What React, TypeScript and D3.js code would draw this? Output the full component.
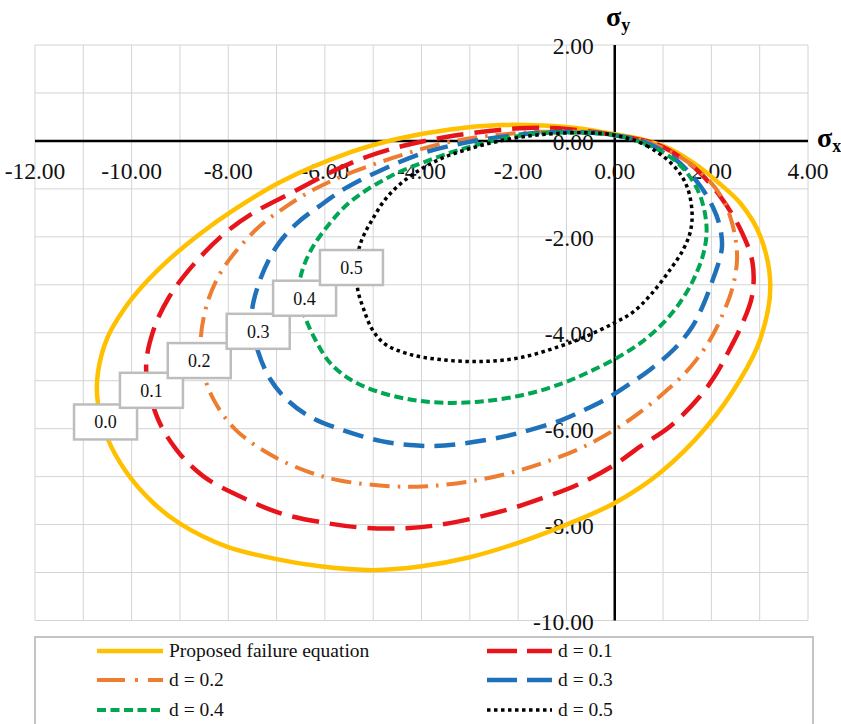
import React from 'react';
import * as d3 from 'd3';

type Pt = [number, number];

// Axis ticks
const xTicks = [-12, -10, -8, -6, -4, -2, 0, 2, 4];
const yTicks = [2, 0, -2, -4, -6, -8, -10];
const xGrid = d3.range(-12, 5, 1);
const yGrid = d3.range(-10, 3, 1);

// Failure envelopes (sigma_x, sigma_y) for each damage level
const env00: Pt[] = [
  [0, 0.14], [0.53, 0.04], [1.15, -0.17], [1.77, -0.56], [2.11, -0.84], [2.6, -1.3], [3.01, -1.98],
  [3.22, -3.03], [3.01, -4.14], [2.6, -4.97], [1.91, -5.95], [0.94, -6.92], [0, -7.55], [-1.0, -8.0],
  [-2.0, -8.38], [-3.0, -8.68], [-4.0, -8.87], [-5.0, -8.95], [-6.1, -8.87], [-7.0, -8.72],
  [-8.03, -8.46], [-9.0, -7.98], [-9.55, -7.55], [-10.1, -6.92], [-10.5, -6.2], [-10.7, -5.45],
  [-10.7, -4.85], [-10.5, -4.1], [-10.15, -3.5], [-9.75, -3.0], [-9.2, -2.45], [-8.6, -1.95],
  [-7.9, -1.45], [-6.93, -0.86], [-5.48, -0.24], [-4.51, 0.04], [-3.41, 0.24], [-2.37, 0.33],
  [-1.5, 0.32], [-0.72, 0.26],
];
const env01: Pt[] = [
  [0, 0.12], [0.87, -0.07], [1.42, -0.38], [1.75, -0.65], [2.18, -1.15], [2.6, -1.84], [2.85, -2.53],
  [2.84, -3.24], [2.6, -3.9], [2.35, -4.4], [2.11, -4.84], [1.77, -5.32], [1.15, -5.95], [0.53, -6.37],
  [0, -6.75], [-0.75, -7.16], [-1.5, -7.45], [-2.23, -7.69], [-3.41, -7.97], [-4.24, -8.07], [-5.13, -8.07],
  [-5.96, -7.97], [-6.93, -7.76], [-7.76, -7.41], [-8.52, -6.99], [-9.07, -6.44], [-9.48, -5.74],
  [-9.7, -4.75], [-9.55, -3.95], [-9.22, -3.25], [-8.72, -2.58], [-8.1, -1.95], [-7.48, -1.5],
  [-6.65, -1.06], [-5.83, -0.63], [-5.13, -0.33], [-4.37, -0.1], [-3.55, 0.07], [-2.65, 0.2],
  [-1.82, 0.27], [-1.0, 0.25],
];
const env02: Pt[] = [
  [0, 0.12], [0.6, 0.0], [1.3, -0.3], [1.85, -0.72], [2.2, -1.15], [2.38, -1.55], [2.5, -2.05],
  [2.53, -2.5], [2.44, -3.05], [2.25, -3.58], [2.0, -4.1], [1.7, -4.55], [1.4, -4.9], [1.1, -5.18],
  [0.8, -5.44], [0.11, -5.95], [-0.65, -6.38], [-1.48, -6.71], [-2.23, -6.94], [-3.06, -7.11],
  [-3.89, -7.2], [-4.65, -7.2], [-5.69, -7.08], [-6.37, -6.89], [-7.13, -6.54], [-7.85, -6.02],
  [-8.3, -5.4], [-8.52, -4.8], [-8.57, -4.14], [-8.44, -3.4], [-8.2, -2.82], [-7.88, -2.35],
  [-7.34, -1.77], [-6.79, -1.36], [-6.24, -1.02], [-5.58, -0.71], [-4.58, -0.35], [-3.55, -0.05],
  [-2.65, 0.1], [-1.54, 0.19], [-0.7, 0.19],
];
const env03: Pt[] = [
  [0, 0.12], [0.6, -0.02], [1.25, -0.38], [1.77, -0.94], [2.04, -1.4], [2.18, -1.8], [2.22, -2.2],
  [2.16, -2.5], [2.02, -2.92], [1.84, -3.4], [1.6, -3.88], [1.22, -4.35], [0.73, -4.77],
  [0.32, -5.06], [-0.16, -5.37], [-0.65, -5.62], [-1.1, -5.82], [-2.1, -6.12], [-3.06, -6.3],
  [-3.75, -6.36], [-4.24, -6.34], [-4.83, -6.26], [-5.6, -6.04], [-6.31, -5.75], [-6.79, -5.39],
  [-7.13, -4.97], [-7.38, -4.4], [-7.52, -3.7], [-7.36, -2.95], [-7.0, -2.2], [-6.58, -1.72],
  [-6.1, -1.35], [-5.58, -0.99], [-4.79, -0.59], [-3.96, -0.25], [-3.06, -0.03], [-2.23, 0.1],
  [-1.54, 0.17], [-0.7, 0.18],
];
const env04: Pt[] = [
  [0, 0.12], [0.6, -0.05], [1.1, -0.3], [1.49, -0.66], [1.77, -1.15], [1.9, -1.8], [1.84, -2.33],
  [1.63, -2.89], [1.35, -3.37], [1.01, -3.79], [0.55, -4.2], [0, -4.55], [-0.58, -4.84], [-1.1, -5.06],
  [-1.82, -5.28], [-2.72, -5.43], [-3.55, -5.46], [-4.24, -5.39], [-4.93, -5.22], [-5.48, -4.97],
  [-5.9, -4.62], [-6.2, -4.14], [-6.43, -3.62], [-6.53, -3.2], [-6.5, -2.82], [-6.3, -2.3],
  [-5.9, -1.72], [-5.45, -1.25], [-4.65, -0.74], [-3.89, -0.42], [-3.06, -0.14], [-2.23, 0.06],
  [-1.54, 0.16], [-0.7, 0.17],
];
const env05: Pt[] = [
  [0, 0.12], [0.66, -0.1], [1.22, -0.52], [1.49, -0.94], [1.6, -1.49], [1.56, -1.91], [1.42, -2.26],
  [1.15, -2.68], [0.75, -3.2], [0.39, -3.56], [0, -3.79], [-0.58, -4.07], [-1.13, -4.28],
  [-1.96, -4.52], [-2.79, -4.6], [-3.61, -4.56], [-4.24, -4.45], [-4.75, -4.24], [-5.02, -3.93],
  [-5.2, -3.5], [-5.32, -3.1], [-5.35, -2.6], [-5.25, -2.1], [-5.04, -1.68], [-4.72, -1.18],
  [-4.24, -0.74], [-3.62, -0.38], [-2.93, -0.14], [-2.23, 0.03], [-1.54, 0.13], [-0.78, 0.17],
];

const seriesNames = ['Proposed failure equation', 'd = 0.1', 'd = 0.2', 'd = 0.3', 'd = 0.4', 'd = 0.5'];
const damageLabels = ['0.0', '0.1', '0.2', '0.3', '0.4', '0.5'];
// Callout anchors (data coordinates) for the damage-level labels
const labelAnchors: Pt[] = [[-10.54, -5.86], [-9.59, -5.2], [-8.6, -4.58], [-7.38, -3.97], [-6.42, -3.28], [-5.45, -2.64]];

const envelopes = [env00, env01, env02, env03, env04, env05];

const styles = [
  { color: '#FFC000', width: 4.5, dash: undefined as string | undefined, legendDash: undefined as string | undefined },
  { color: '#E8141C', width: 4.5, dash: '27 11', legendDash: '30 10' },
  { color: '#ED7D31', width: 4, dash: '20 8 2.5 8', legendDash: '28 10 3 10' },
  { color: '#1F72BA', width: 4.5, dash: '21 10', legendDash: '30 10' },
  { color: '#00A651', width: 4, dash: '9 4.5', legendDash: '9 4.5' },
  { color: '#000000', width: 3.5, dash: '3.5 3.5', legendDash: '3.5 3.5' },
];

const FONT = '"Liberation Serif", "Times New Roman", serif';

export default function App() {
  const W = 841;
  const H = 724;
  const x = d3.scaleLinear().domain([-12, 4]).range([35, 808]);
  const y = d3.scaleLinear().domain([-10, 2]).range([620.5, 45]);

  const line = d3
    .line<Pt>()
    .x((d) => x(d[0]))
    .y((d) => y(d[1]))
    .curve(d3.curveCatmullRomClosed.alpha(0.5));

  const legendRows = [651, 680, 710];
  const legendCols = [
    { x0: 97, x1: 163, tx: 169 },
    { x0: 487, x1: 552, tx: 558 },
  ];

  return (
    <svg
      width={W}
      height={H}
      style={{ position: 'absolute', left: 0, top: 0, background: '#fff' }}
      fontFamily={FONT}
    >
      <rect x={0} y={0} width={W} height={H} fill="#fff" />

      {/* grid */}
      <g stroke="#d4d4d4" strokeWidth={1}>
        {xGrid.map((v) => (
          <line key={'gx' + v} x1={x(v)} x2={x(v)} y1={y(2)} y2={y(-10)} />
        ))}
        {yGrid.map((v) => (
          <line key={'gy' + v} x1={x(-12)} x2={x(4)} y1={y(v)} y2={y(v)} />
        ))}
      </g>

      {/* axes through the origin */}
      <line x1={x(-12)} x2={x(4)} y1={y(0)} y2={y(0)} stroke="#000" strokeWidth={2.5} />
      <line x1={x(0)} x2={x(0)} y1={y(2)} y2={y(-10)} stroke="#000" strokeWidth={2.5} />

      {/* tick labels */}
      <g fontSize={23.5} fill="#111">
        {xTicks.map((v) => (
          <text key={'xt' + v} x={x(v)} y={y(0) + 30} textAnchor="middle" dy="0.35em">
            {v.toFixed(2)}
          </text>
        ))}
        {yTicks.map((v) => (
          <text key={'yt' + v} x={x(0) - 21} y={y(v) + 1} textAnchor="end" dy="0.35em">
            {v.toFixed(2)}
          </text>
        ))}
      </g>

      {/* axis titles */}
      <text x={606} y={26} fontSize={28} fontWeight="bold" fill="#000">
        σ<tspan fontSize={18} dy={5}>y</tspan>
      </text>
      <text x={817} y={147} fontSize={28} fontWeight="bold" fill="#000">
        σ<tspan fontSize={18} dy={5}>x</tspan>
      </text>

      {/* envelopes */}
      {envelopes.map((pts, i) => (
        <path
          key={'env' + i}
          d={line(pts) || ''}
          fill="none"
          stroke={styles[i].color}
          strokeWidth={styles[i].width}
          strokeDasharray={styles[i].dash}
          strokeLinejoin="round"
        />
      ))}

      {/* damage-level callouts */}
      {damageLabels.map((t, i) => {
        const cx = x(labelAnchors[i][0]);
        const cy = y(labelAnchors[i][1]);
        return (
          <g key={'lbl' + i}>
            <rect x={cx - 31.5} y={cy - 17.5} width={63} height={35} fill="#fff" stroke="#bdbdbd" strokeWidth={2.5} />
            <text x={cx} y={cy} textAnchor="middle" dy="0.35em" fontSize={18} fill="#111">
              {t}
            </text>
          </g>
        );
      })}

      {/* legend */}
      <rect x={35} y={637} width={778} height={100} fill="#fff" stroke="#c4c4c4" strokeWidth={2} />
      {seriesNames.map((name, i) => {
        const col = legendCols[i % 2];
        const ry = legendRows[Math.floor(i / 2)];
        const s = styles[i];
        return (
          <g key={'leg' + i}>
            <line
              x1={col.x0}
              x2={col.x1}
              y1={ry}
              y2={ry}
              stroke={s.color}
              strokeWidth={s.width}
              strokeDasharray={s.legendDash}
            />
            <text x={col.tx} y={ry} dy="0.33em" fontSize={19.5} fill="#111">
              {name}
            </text>
          </g>
        );
      })}
    </svg>
  );
}
